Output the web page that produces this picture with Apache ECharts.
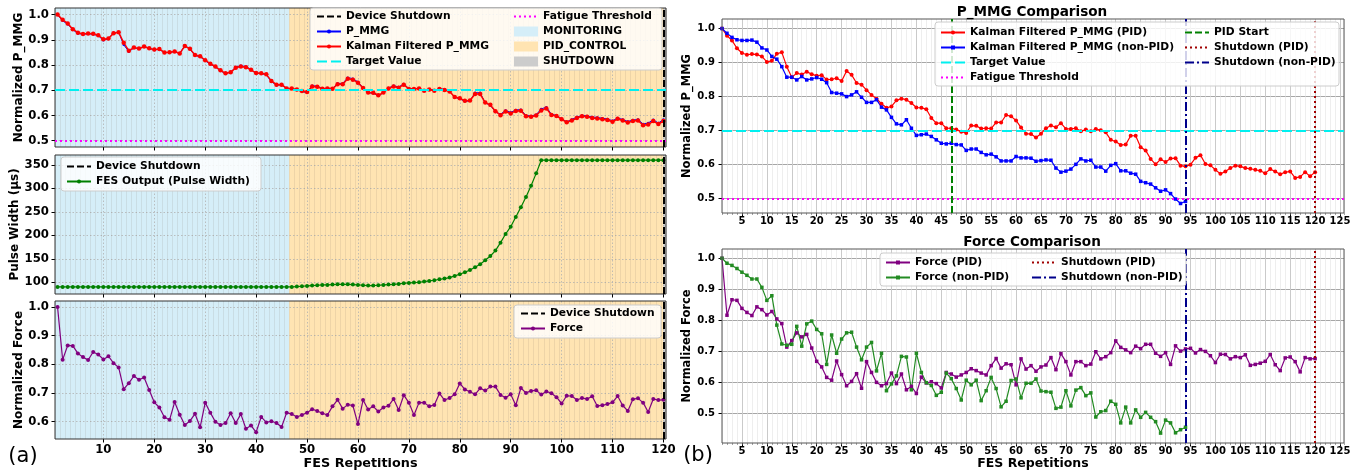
<!DOCTYPE html>
<html>
<head>
<meta charset="utf-8">
<title>FES P_MMG / Force</title>
<script src="https://cdn.jsdelivr.net/npm/echarts@6/dist/echarts.min.js"></script>
<style>
  html, body { margin: 0; padding: 0; background: #fff; }
  #main { width: 1364px; height: 472px; }
</style>
</head>
<body>
<div id="main"></div>
<script>
// ---- data ----
const pmmgKalmanPid = [
  1.0, 0.979, 0.965, 0.942, 0.928, 0.923, 0.925, 0.924, 0.918, 0.902,
  0.905, 0.926, 0.93, 0.888, 0.857, 0.869, 0.865, 0.873, 0.866, 0.861,
  0.863, 0.85, 0.851, 0.854, 0.846, 0.875, 0.864, 0.84, 0.835, 0.819,
  0.805, 0.794, 0.779, 0.767, 0.771, 0.789, 0.794, 0.791, 0.781, 0.768,
  0.767, 0.763, 0.737, 0.722, 0.722, 0.707, 0.707, 0.703, 0.697, 0.693,
  0.715, 0.714, 0.706, 0.707, 0.706, 0.724, 0.724, 0.746, 0.742, 0.73,
  0.709, 0.691, 0.69, 0.68, 0.691, 0.707, 0.715, 0.71, 0.722, 0.705,
  0.705, 0.707, 0.698, 0.703, 0.698, 0.705, 0.701, 0.695, 0.673, 0.668,
  0.658, 0.659, 0.685, 0.685, 0.651, 0.642, 0.617, 0.601, 0.616, 0.608,
  0.618, 0.619, 0.597, 0.595, 0.6, 0.62, 0.628, 0.602, 0.598, 0.585,
  0.573, 0.58, 0.59, 0.597, 0.595, 0.59, 0.588, 0.585, 0.582, 0.575,
  0.587, 0.58, 0.572, 0.578, 0.58, 0.561, 0.564, 0.578, 0.566, 0.578
]
const pmmgRaw = [
  1.0, 0.975, 0.962, 0.94, 0.925, 0.922, 0.924, 0.922, 0.916, 0.898,
  0.904, 0.928, 0.93, 0.88, 0.853, 0.868, 0.864, 0.874, 0.866, 0.86,
  0.862, 0.849, 0.85, 0.853, 0.845, 0.878, 0.863, 0.838, 0.833, 0.817,
  0.803, 0.792, 0.777, 0.766, 0.772, 0.792, 0.797, 0.794, 0.782, 0.767,
  0.766, 0.761, 0.734, 0.72, 0.721, 0.706, 0.706, 0.701, 0.695, 0.69,
  0.718, 0.716, 0.707, 0.708, 0.707, 0.727, 0.727, 0.75, 0.746, 0.733,
  0.71, 0.69, 0.688, 0.678, 0.69, 0.709, 0.718, 0.713, 0.725, 0.707,
  0.706, 0.708, 0.699, 0.704, 0.699, 0.707, 0.703, 0.696, 0.672, 0.666,
  0.656, 0.658, 0.69, 0.69, 0.65, 0.64, 0.614, 0.605, 0.62, 0.612,
  0.622, 0.623, 0.6, 0.598, 0.603, 0.626, 0.633, 0.605, 0.6, 0.587,
  0.575, 0.584, 0.594, 0.6, 0.598, 0.594, 0.592, 0.589, 0.586, 0.579,
  0.59, 0.584, 0.576, 0.582, 0.584, 0.566, 0.57, 0.583, 0.57, 0.584
]
const pmmgKalmanNonPid = [
  1.0, 0.986, 0.974, 0.967, 0.965, 0.965, 0.966, 0.96, 0.943, 0.937,
  0.918, 0.91, 0.888, 0.857, 0.857, 0.849, 0.859, 0.849, 0.852, 0.856,
  0.851, 0.841, 0.812, 0.81, 0.808, 0.8, 0.805, 0.814, 0.798, 0.783,
  0.783, 0.791, 0.769, 0.761, 0.739, 0.72, 0.717, 0.732, 0.707, 0.686,
  0.688, 0.69, 0.683, 0.673, 0.663, 0.661, 0.663, 0.659, 0.658, 0.642,
  0.646, 0.646, 0.636, 0.629, 0.631, 0.623, 0.611, 0.611, 0.611, 0.624,
  0.62, 0.62, 0.619, 0.61, 0.612, 0.614, 0.613, 0.59, 0.578, 0.581,
  0.587, 0.601, 0.617, 0.611, 0.613, 0.593, 0.593, 0.581, 0.598, 0.603,
  0.582, 0.582, 0.575, 0.572, 0.551, 0.547, 0.543, 0.532, 0.522, 0.526,
  0.515, 0.499, 0.486, 0.492
]
const forcePid = [
  1.0, 0.816, 0.866, 0.864, 0.838, 0.825, 0.815, 0.843, 0.834, 0.817,
  0.828, 0.804, 0.789, 0.713, 0.734, 0.759, 0.746, 0.754, 0.71, 0.667,
  0.649, 0.615, 0.606, 0.668, 0.624, 0.588, 0.602, 0.627, 0.58, 0.666,
  0.631, 0.599, 0.588, 0.595, 0.629, 0.595, 0.626, 0.575, 0.586, 0.563,
  0.616, 0.597, 0.601, 0.595, 0.581, 0.631, 0.626, 0.616, 0.623, 0.631,
  0.643, 0.637, 0.629, 0.623, 0.653, 0.676, 0.645, 0.659, 0.656, 0.591,
  0.675, 0.642, 0.653, 0.635, 0.649, 0.655, 0.679, 0.64, 0.692, 0.666,
  0.623, 0.666, 0.666, 0.653, 0.658, 0.698, 0.675, 0.682, 0.695, 0.733,
  0.712, 0.704, 0.695, 0.716, 0.708, 0.722, 0.722, 0.693, 0.683, 0.695,
  0.657, 0.717, 0.7, 0.707, 0.709, 0.694, 0.705, 0.699, 0.685, 0.663,
  0.69, 0.689, 0.675, 0.682, 0.679, 0.688, 0.654, 0.657, 0.661, 0.667,
  0.689, 0.656, 0.637, 0.678, 0.681, 0.666, 0.633, 0.679, 0.675, 0.676
]
const forceNonPid = [
  1.0, 0.984, 0.977, 0.967, 0.955, 0.945, 0.933, 0.933, 0.906, 0.864,
  0.879, 0.784, 0.723, 0.719, 0.722, 0.78, 0.716, 0.788, 0.797, 0.77,
  0.756, 0.657, 0.752, 0.693, 0.739, 0.759, 0.761, 0.713, 0.672, 0.713,
  0.728, 0.636, 0.693, 0.572, 0.594, 0.62, 0.683, 0.681, 0.575, 0.693,
  0.631, 0.598, 0.589, 0.557, 0.567, 0.629, 0.611, 0.579, 0.542, 0.606,
  0.591, 0.606, 0.54, 0.572, 0.615, 0.579, 0.52, 0.538, 0.605, 0.61,
  0.549, 0.596, 0.596, 0.61, 0.571, 0.569, 0.567, 0.515, 0.519, 0.572,
  0.523, 0.574, 0.582, 0.556, 0.565, 0.487, 0.504, 0.508, 0.538, 0.528,
  0.468, 0.519, 0.468, 0.51, 0.486, 0.502, 0.486, 0.472, 0.435, 0.477,
  0.468, 0.436, 0.446, 0.454
]
const pulseWidth = [
  90, 90, 90, 90, 90, 90, 90, 90, 90, 90,
  90, 90, 90, 90, 90, 90, 90, 90, 90, 90,
  90, 90, 90, 90, 90, 90, 90, 90, 90, 90,
  90, 90, 90, 90, 90, 90, 90, 90, 90, 90,
  90, 90, 90, 90, 90, 90, 90.1, 90.8, 91.5, 92.2,
  92.9, 93.6, 94.3, 94.3, 95, 95.7, 95.7, 95.7, 95, 94.3,
  93.6, 92.9, 92.9, 93.6, 94.3, 95, 95.7, 96.5, 97.9, 98.6,
  99.3, 100, 101.4, 102.8, 104.3, 106.4, 107.8, 109.9, 113.5, 117,
  121.3, 126.2, 131.9, 138.3, 146.8, 156, 167.4, 184.4, 202.8, 218.4,
  239, 259.6, 281.6, 305.7, 331.9, 360, 360, 360, 360, 360,
  360, 360, 360, 360, 360, 360, 360, 360, 360, 360,
  360, 360, 360, 360, 360, 360, 360, 360, 360, 360
]

// phases / events (repetition numbers)
const phaseMonitoring = [0.5, 46.5]
const phasePidControl = [46.5, 120]
const phaseShutdown = [120, 120.5]
const deviceShutdownRep = 120
const pidStartRep = 47
const shutdownPidRep = 120
const shutdownNonPidRep = 94
const targetValue = 0.7
const fatigueThreshold = 0.5

// tick labels
const xTicksLeft = [10, 20, 30, 40, 50, 60, 70, 80, 90, 100, 110, 120]
const xTicksRight = [5, 10, 15, 20, 25, 30, 35, 40, 45, 50, 55, 60, 65, 70, 75, 80, 85, 90, 95, 100, 105, 110, 115, 120, 125]
const yTicksPmmg = [0.5, 0.6, 0.7, 0.8, 0.9, 1.0]
const yTicksPulse = [100, 150, 200, 250, 300, 350]
const yTicksForceLeft = [0.6, 0.7, 0.8, 0.9, 1.0]
const yTicksForceRight = [0.5, 0.6, 0.7, 0.8, 0.9, 1.0]

// ---- styling ----
const FONT = 'DejaVu Sans'
const C = {
  monitoring: '#d5eef8',
  pid: '#ffe4b2',
  shutdown: '#cccccc',
  blue: '#0000ff',
  red: '#ff0000',
  green: '#008000',
  fgreen: '#228b22',
  purple: '#800080',
  cyan: '#00f0f0',
  magenta: '#ff00ff',
  darkred: '#a00000',
  navy: '#00008b'
}
const DASH = [7, 3]
const LONGDASH = [10, 4]
const DOT = [2, 3]
const DASHDOT = [9, 3, 2, 3]

const toXY = arr => arr.map((v, i) => [i + 1, v])
const fmt1 = v => v.toFixed(1)
const boldText = size => ({ fontFamily: FONT, fontWeight: 'bold', fontSize: size, color: '#000' })

const chart = echarts.init(document.getElementById('main'), null, { renderer: 'canvas' })

const grids = [
  { left: 55, top: 8, width: 611, height: 139 },
  { left: 55, top: 155, width: 611, height: 139 },
  { left: 55, top: 301, width: 611, height: 138 },
  { left: 722, top: 19, width: 622, height: 194 },
  { left: 722, top: 249, width: 622, height: 194 }
].map((g, i) => Object.assign(g, {
  show: true, z: 4, backgroundColor: 'transparent',
  borderColor: i < 3 ? '#333' : '#555', borderWidth: 1, outerBoundsMode: 'none'
}))

function leftX (gi, showLabels) {
  return {
    type: 'value', gridIndex: gi, position: 'bottom', min: 0.5, max: 120.5, z: 1,
    axisLine: { show: false },
    axisTick: { show: true, customValues: xTicksLeft, length: 3.5, lineStyle: { color: '#000' } },
    axisLabel: { show: showLabels, customValues: xTicksLeft, margin: 5, ...boldText(11.7) },
    splitLine: { show: true, lineStyle: { color: '#b0b0b0', type: [1.5, 2], width: 0.8 } },
    name: showLabels ? 'FES Repetitions' : '', nameLocation: 'middle', nameGap: 17,
    nameTextStyle: boldText(12.8)
  }
}
function stripeX (gi) {
  // one thin boundary per repetition span
  return {
    type: 'value', gridIndex: gi, position: 'bottom', min: 0.5, max: 120.5, interval: 1, z: 1,
    axisLine: { show: false }, axisTick: { show: false }, axisLabel: { show: false },
    splitLine: { show: true, lineStyle: { color: 'rgba(120,110,90,0.13)', width: 1 } }
  }
}
function rightX (gi, showName) {
  return {
    type: 'value', gridIndex: gi, position: 'bottom', min: 1, max: 125.8, z: 1,
    axisLine: { show: false },
    axisTick: { show: true, customValues: xTicksRight, length: 3.5, lineStyle: { color: '#000' } },
    axisLabel: { show: true, customValues: xTicksRight, margin: 3, ...boldText(10) },
    splitLine: { show: true, lineStyle: { color: '#a6a6a6', width: 1 } },
    name: showName ? 'FES Repetitions' : '', nameLocation: 'middle', nameGap: 13,
    nameTextStyle: boldText(12.5)
  }
}
function minorX (gi) {
  return {
    type: 'value', gridIndex: gi, position: 'bottom', min: 1, max: 125.8, interval: 1, z: 1,
    axisLine: { show: false }, axisLabel: { show: false },
    axisTick: { show: true, length: 2, lineStyle: { color: '#666', width: 0.6 } },
    splitLine: { show: true, lineStyle: { color: '#e2e2e2', width: 0.6 } }
  }
}
function yAx (gi, min, max, ticks, formatter, name, o) {
  return {
    type: 'value', gridIndex: gi, min, max, z: 1,
    axisLine: { show: false },
    axisTick: { show: true, customValues: ticks, length: 3.5, lineStyle: { color: '#000' } },
    axisLabel: { customValues: ticks, formatter, margin: o.margin, ...boldText(o.labelSize) },
    splitLine: { show: true, lineStyle: o.grid },
    name, nameLocation: 'middle', nameGap: o.nameGap, nameTextStyle: boldText(o.nameSize)
  }
}
const leftGridLine = { color: '#b0b0b0', type: [1.5, 2], width: 0.8 }
const rightGridLine = { color: '#a6a6a6', width: 1 }
const leftY = { margin: 6, labelSize: 11.7, nameSize: 12, nameGap: 29, grid: leftGridLine }
const rightY = { margin: 7, labelSize: 10, nameSize: 11.5, nameGap: 25, grid: rightGridLine }

// indices 0..4 are the main axes of grids 0..4, the rest only draw stripes / minor grid
const xAxis = [
  leftX(0, false), leftX(1, false), leftX(2, true),
  rightX(3, false), rightX(4, true),
  stripeX(0), stripeX(1), stripeX(2),
  minorX(3), minorX(4)
]
const yAxis = [
  yAx(0, 0.475, 1.026, yTicksPmmg, fmt1, 'Normalized P_MMG', leftY),
  yAx(1, 75, 371, yTicksPulse, v => String(v), 'Pulse Width (μs)', leftY),
  yAx(2, 0.539, 1.021, yTicksForceLeft, fmt1, 'Normalized Force', leftY),
  yAx(3, 0.458, 1.028, yTicksPmmg, fmt1, 'Normalized P_MMG', rightY),
  yAx(4, 0.403, 1.030, yTicksForceRight, fmt1, 'Normalized Force', rightY)
]

// background phase spans (legend patches come from these)
function phase (gi, name, range, color) {
  return {
    name, type: 'line', xAxisIndex: gi, yAxisIndex: gi, data: [], silent: true,
    itemStyle: { color }, lineStyle: { color },
    markArea: { silent: true, z: 0, itemStyle: { color }, data: [[{ xAxis: range[0] }, { xAxis: range[1] }]] }
  }
}
function vline (gi, name, x, color, type, width) {
  return {
    name, type: 'line', xAxisIndex: gi, yAxisIndex: gi, data: [], symbol: 'none',
    itemStyle: { color }, lineStyle: { color, type, width },
    markLine: {
      silent: true, symbol: ['none', 'none'], label: { show: false },
      lineStyle: { color, type, width }, data: [{ xAxis: x }]
    }
  }
}
function hline (gi, name, y, color, type, width) {
  return {
    name, type: 'line', xAxisIndex: gi, yAxisIndex: gi, data: [], symbol: 'none',
    itemStyle: { color }, lineStyle: { color, type, width },
    markLine: {
      silent: true, symbol: ['none', 'none'], label: { show: false },
      lineStyle: { color, type, width }, data: [{ yAxis: y }]
    }
  }
}
function dataLine (gi, name, values, color, symbol, size, width) {
  return {
    name, type: 'line', xAxisIndex: gi, yAxisIndex: gi, data: toXY(values), z: 3,
    symbol, symbolSize: size, showSymbol: true,
    itemStyle: { color }, lineStyle: { color, width }
  }
}

const series = []
for (let gi = 0; gi < 3; gi++) {
  series.push(phase(gi, 'MONITORING', phaseMonitoring, C.monitoring))
  series.push(phase(gi, 'PID_CONTROL', phasePidControl, C.pid))
  series.push(phase(gi, 'SHUTDOWN', phaseShutdown, C.shutdown))
  series.push(vline(gi, 'Device Shutdown', deviceShutdownRep, '#000', DASH, 2))
}
series.push(
  dataLine(0, 'P_MMG', pmmgRaw, C.blue, 'circle', 2.5, 1),
  dataLine(0, 'Kalman Filtered P_MMG', pmmgKalmanPid, C.red, 'circle', 4.5, 1.5),
  hline(0, 'Target Value', targetValue, C.cyan, LONGDASH, 2),
  hline(0, 'Fatigue Threshold', fatigueThreshold, C.magenta, DOT, 2),
  dataLine(1, 'FES Output (Pulse Width)', pulseWidth, C.green, 'circle', 4, 1.2),
  dataLine(2, 'Force', forcePid, C.purple, 'circle', 4, 1.2),

  dataLine(3, 'Kalman Filtered P_MMG (PID)', pmmgKalmanPid, C.red, 'circle', 4, 1.2),
  dataLine(3, 'Kalman Filtered P_MMG (non-PID)', pmmgKalmanNonPid, C.blue, 'rect', 3.5, 1.2),
  hline(3, 'Target Value', targetValue, C.cyan, LONGDASH, 2),
  hline(3, 'Fatigue Threshold', fatigueThreshold, C.magenta, DOT, 2),
  vline(3, 'PID Start', pidStartRep, C.green, DASH, 2),
  vline(3, 'Shutdown (PID)', shutdownPidRep, C.darkred, DOT, 2),
  vline(3, 'Shutdown (non-PID)', shutdownNonPidRep, C.navy, DASHDOT, 2),

  dataLine(4, 'Force (PID)', forcePid, C.purple, 'rect', 3.5, 1.2),
  dataLine(4, 'Force (non-PID)', forceNonPid, C.fgreen, 'rect', 3.5, 1.2),
  vline(4, 'Shutdown (PID)', shutdownPidRep, C.darkred, DOT, 2),
  vline(4, 'Shutdown (non-PID)', shutdownNonPidRep, C.navy, DASHDOT, 2)
)

function legend (left, top, data, markSize) {
  return {
    orient: 'vertical', left, top, padding: 0, itemWidth: 24, itemHeight: markSize, itemGap: 2,
    selectedMode: false, z: 20, data,
    textStyle: { fontFamily: FONT, fontWeight: 'bold', fontSize: 10.7, lineHeight: 13, color: '#000' }
  }
}
const patch = name => ({ name, icon: 'rect' })
const plain = name => ({ name, itemStyle: { opacity: 0 } }) // line only, no marker
const legends = [
  legend(316, 10, [plain('Device Shutdown'), 'P_MMG', 'Kalman Filtered P_MMG', plain('Target Value')], 5),
  legend(513, 10, [plain('Fatigue Threshold'), patch('MONITORING'), patch('PID_CONTROL'), patch('SHUTDOWN')], 10),
  legend(66, 160, [plain('Device Shutdown'), 'FES Output (Pulse Width)'], 5),
  legend(520, 307, [plain('Device Shutdown'), 'Force'], 5),
  legend(940, 26, ['Kalman Filtered P_MMG (PID)', 'Kalman Filtered P_MMG (non-PID)', plain('Target Value'), plain('Fatigue Threshold')], 5),
  legend(1184, 26, [plain('PID Start'), plain('Shutdown (PID)'), plain('Shutdown (non-PID)')], 5),
  legend(885, 256, ['Force (PID)', 'Force (non-PID)'], 5),
  legend(1031, 256, [plain('Shutdown (PID)'), plain('Shutdown (non-PID)')], 5)
]

const box = (x, y, width, height) => ({
  type: 'rect', z: 10, silent: true,
  shape: { x, y, width, height, r: 3 },
  style: { fill: 'rgba(255,255,255,0.82)', stroke: '#cccccc', lineWidth: 1 }
})
const label = (text, x, y, font) => ({
  type: 'text', z: 10, silent: true, x, y,
  style: { text, font, fill: '#000', align: 'center', verticalAlign: 'middle' }
})

chart.setOption({
  animation: false,
  backgroundColor: '#fff',
  grid: grids,
  xAxis,
  yAxis,
  legend: legends,
  series,
  graphic: [
    box(310, 8, 352, 62),
    box(61, 157, 200, 34),
    box(514, 305, 147, 33),
    box(935, 22, 404, 64),
    box(880, 253, 306, 33),
    label('P_MMG Comparison', 1032, 12, 'bold 13.6px "DejaVu Sans"'),
    label('Force Comparison', 1032, 242, 'bold 13.6px "DejaVu Sans"'),
    label('(a)', 23, 457, '21px "DejaVu Sans"'),
    label('(b)', 698, 456, '21px "DejaVu Sans"')
  ]
})
</script>
</body>
</html>
